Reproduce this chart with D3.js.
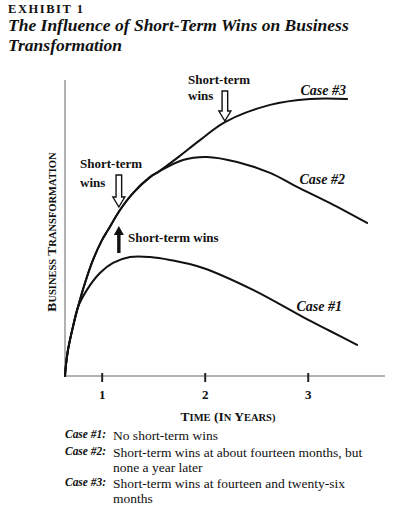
<!DOCTYPE html>
<html>
<head>
<meta charset="utf-8">
<script src="https://cdn.jsdelivr.net/npm/d3@7"></script>
<style>
  html, body { margin: 0; padding: 0; background: #fff; }
  svg { display: block; }
  text { font-family: "Liberation Serif", "Times New Roman", serif; fill: #111; }
</style>
</head>
<body>
<svg id="chart" width="393" height="507"></svg>
<script>
// ---- data ----
const xTicks = [1, 2, 3];
const case3T = [0.644, 0.653, 0.673, 0.721, 0.770, 0.838, 0.916, 1.003, 1.061, 1.178, 1.304, 1.469, 1.547, 1.731, 1.954, 2.197, 2.634, 3.022, 3.382];
const case3V = [0, 3.7, 8.8, 16.6, 23.3, 31.4, 39.2, 45.9, 49.3, 56.1, 61.8, 67.2, 68.9, 73.6, 79.7, 85.8, 91.6, 93.6, 93.6];
const case2T = [0.644, 0.653, 0.673, 0.721, 0.770, 0.838, 0.916, 1.003, 1.061, 1.178, 1.304, 1.469, 1.547, 1.789, 2.022, 2.314, 2.634, 2.896, 3.217, 3.576];
const case2V = [0, 3.7, 8.8, 16.6, 23.3, 31.4, 39.2, 45.9, 49.3, 56.1, 61.8, 67.2, 68.9, 73.0, 74.0, 72.3, 68.6, 63.9, 58.4, 51.7];
const case1T = [0.644, 0.653, 0.673, 0.721, 0.770, 0.857, 0.983, 1.110, 1.275, 1.469, 1.663, 1.983, 2.469, 2.955, 3.217, 3.479];
const case1V = [0, 3.7, 8.8, 16.6, 23.3, 29.1, 34.8, 38.2, 40.2, 40.2, 39.2, 36.5, 29.1, 19.9, 15.2, 10.5];
const caseNames = ["Case #1", "Case #2", "Case #3"];
const winTimes = [14 / 12, 26 / 12]; // short-term wins, in years
const legendLabels = ["Case #1:", "Case #2:", "Case #3:"];
const legendTexts = [
  ["No short-term wins"],
  ["Short-term wins at about fourteen months, but", "none a year later"],
  ["Short-term wins at fourteen and twenty-six", "months"]
];

// ---- layout ----
const svg = d3.select("#chart");
const x = d3.scaleLinear().domain([0.644, 3.75]).range([65, 385]);
const y = d3.scaleLinear().domain([0, 100]).range([376, 80]);

// Title
svg.append("text").attr("x", 8).attr("y", 13)
  .attr("textLength", 75).attr("lengthAdjust", "spacing")
  .style("font-size", "12.5px").style("font-weight", "bold")
  .text("EXHIBIT 1");
svg.append("text").attr("x", 8).attr("y", 31)
  .style("font-size", "17.5px").style("font-weight", "bold").style("font-style", "italic")
  .text("The Influence of Short-Term Wins on Business");
svg.append("text").attr("x", 8).attr("y", 51)
  .style("font-size", "17.5px").style("font-weight", "bold").style("font-style", "italic")
  .text("Transformation");

// Axes
svg.append("line").attr("x1", x.range()[0]).attr("x2", x.range()[0])
  .attr("y1", y(0)).attr("y2", y(100)).attr("stroke", "#666").attr("stroke-width", 1);
svg.append("line").attr("x1", x.range()[0]).attr("x2", x.range()[1])
  .attr("y1", y(0)).attr("y2", y(0)).attr("stroke", "#666").attr("stroke-width", 1);

const xAxis = d3.axisBottom(x).tickValues(xTicks).tickSize(0).tickFormat(d3.format("d"));
const gx = svg.append("g").attr("transform", `translate(0,${y(0)})`).call(xAxis);
gx.select(".domain").remove();
gx.selectAll(".tick text").attr("y", 23).attr("dy", 0)
  .style("font-size", "13px").style("font-weight", "bold").style("font-family", "Liberation Serif, serif").attr("fill", "#111");
gx.selectAll(".tick").append("line").attr("y1", -3).attr("y2", 6)
  .attr("stroke", "#222").attr("stroke-width", 2);

// small-caps helper: first letter of each word large, rest small
function smallCaps(sel, str, big, small) {
  const words = str.split(" ");
  words.forEach((w, i) => {
    const first = w.match(/^\(?[A-Z]/);
    const lead = first ? first[0] : "";
    const rest = w.slice(lead.length);
    sel.append("tspan").style("font-size", big + "px").text((i ? " " : "") + lead);
    if (rest) sel.append("tspan").style("font-size", small + "px").text(rest);
  });
}

const xt = svg.append("text").attr("x", 228).attr("y", 421).attr("text-anchor", "middle")
  .style("font-weight", "bold");
smallCaps(xt, "TIME (IN YEARS)", 13.5, 10.5);

const yt = svg.append("text").attr("transform", "translate(56,232) rotate(-90)")
  .attr("text-anchor", "middle").style("font-weight", "bold");
smallCaps(yt, "BUSINESS TRANSFORMATION", 13.5, 10.5);

// Lines
const line = d3.line().x(d => x(d[0])).y(d => y(d[1])).curve(d3.curveCatmullRom.alpha(0.5));
const series = [
  d3.zip(case1T, case1V),
  d3.zip(case2T, case2V),
  d3.zip(case3T, case3V)
];
svg.append("g").selectAll("path").data(series).join("path")
  .attr("d", line).attr("fill", "none").attr("stroke", "#111").attr("stroke-width", 2)
  .attr("stroke-linecap", "round");

// Case labels
const caseLabelPos = [[2.89, 21.8], [2.92, 64.9], [2.93, 94.9]];
svg.append("g").selectAll("text").data(caseNames).join("text")
  .attr("x", (d, i) => x(caseLabelPos[i][0])).attr("y", (d, i) => y(caseLabelPos[i][1]))
  .style("font-size", "14px").style("font-style", "italic").style("font-weight", "bold")
  .text(d => d);

// Arrows
function hollowArrow(cx, tipY, len) {
  const sw = 2.8, hw = 6, hh = 10;
  const top = tipY - len;
  const p = `M${cx - sw},${top} L${cx + sw},${top} L${cx + sw},${tipY - hh} L${cx + hw},${tipY - hh}
    L${cx},${tipY} L${cx - hw},${tipY - hh} L${cx - sw},${tipY - hh} Z`;
  svg.append("path").attr("d", p).attr("fill", "#fff").attr("stroke", "#111").attr("stroke-width", 1.4)
    .attr("stroke-linejoin", "miter");
}
function solidArrow(cx, tipY, len) {
  const sw = 1.7, hw = 5, hh = 9;
  const bottom = tipY + len;
  const p = `M${cx - sw},${bottom} L${cx + sw},${bottom} L${cx + sw},${tipY + hh} L${cx + hw},${tipY + hh}
    L${cx},${tipY} L${cx - hw},${tipY + hh} L${cx - sw},${tipY + hh} Z`;
  svg.append("path").attr("d", p).attr("fill", "#111");
}
hollowArrow(x(winTimes[0]), 207, 32);
hollowArrow(x(winTimes[1]) + 3, 121, 30);
solidArrow(x(winTimes[0]), 226, 27);

function label(lines, lx, ly, lh) {
  const t = svg.append("text").style("font-size", "13px").style("font-weight", "bold");
  lines.forEach((s, i) => t.append("tspan").attr("x", lx).attr("y", ly + i * lh).text(s));
}
label(["Short-term", "wins"], 80, 168, 19);
label(["Short-term", "wins"], 188, 84, 16);
label(["Short-term wins"], 128, 242, 0);

// Legend
const legendY = [439, 456, 487];
const g = svg.append("g");
legendLabels.forEach((lab, i) => {
  g.append("text").attr("x", 65).attr("y", legendY[i] - 1)
    .attr("textLength", 41).attr("lengthAdjust", "spacingAndGlyphs")
    .style("font-size", "12.5px").style("font-style", "italic").style("font-weight", "bold").text(lab);
  legendTexts[i].forEach((s, j) => {
    g.append("text").attr("x", 113).attr("y", legendY[i] + 1 + j * 15)
      .style("font-size", "13.5px").text(s);
  });
});
</script>
</body>
</html>
